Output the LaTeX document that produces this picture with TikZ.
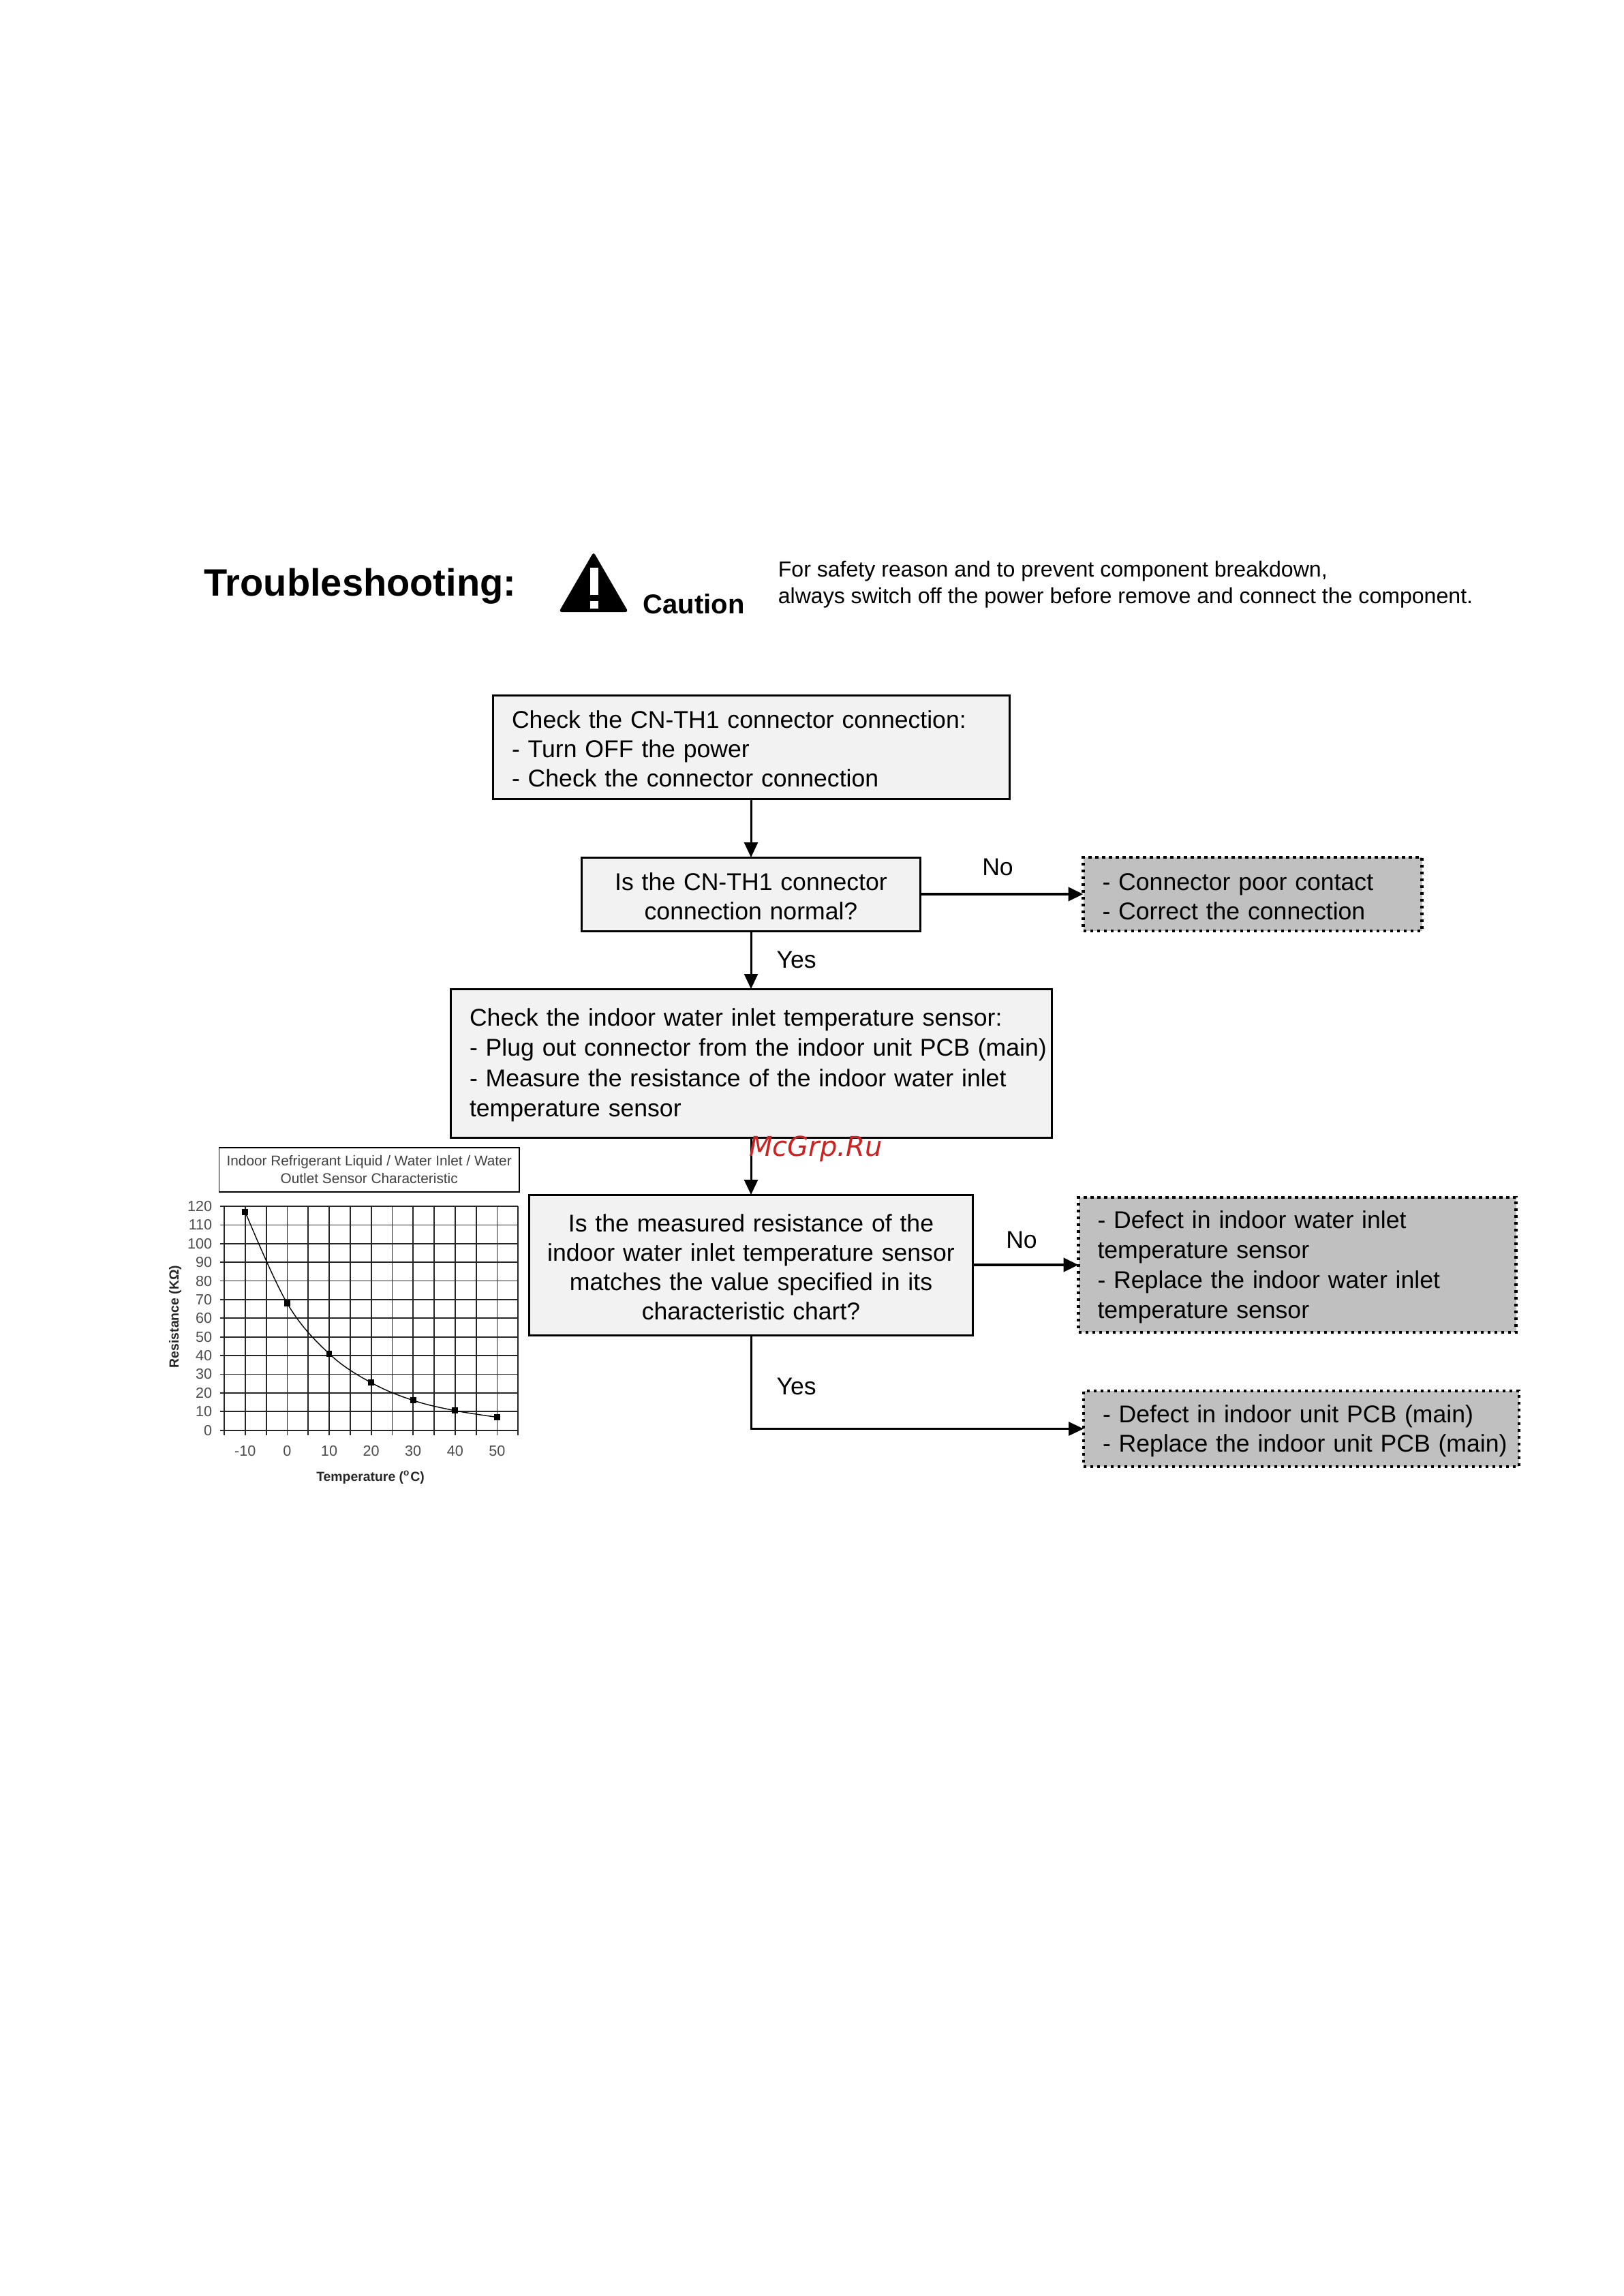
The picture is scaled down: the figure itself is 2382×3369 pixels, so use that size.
\documentclass[tikz,border=0pt]{standalone}
\usepackage{fontspec}
\setmainfont{Liberation Sans}
\newfontfamily\markfont{DejaVu Sans}
\usetikzlibrary{arrows.meta, positioning}

\definecolor{boxfill}{HTML}{F2F2F2}
\definecolor{faultfill}{HTML}{C0C0C0}
\definecolor{markred}{HTML}{CC2222}

\begin{document}
\begin{tikzpicture}[
    x=0.25pt, y=-0.25pt,
    every node/.style={font=\fontsize{8.9}{10.75}\selectfont},
    stepbox/.style={rectangle, draw, line width=0.75pt, fill=boxfill, align=left, inner xsep=7pt, inner ysep=0pt, outer sep=0pt, execute at begin node={\rule{0pt}{7.9pt}}},
    askbox/.style={stepbox, align=center, inner xsep=3pt},
    faultbox/.style={stepbox, fill=faultfill, dash pattern=on 1.1pt off 1.4pt, line width=1.1pt},
    arrow/.style={-{Triangle[length=5.5pt, width=5pt]}, line width=0.75pt},
    sidearrow/.style={arrow, line width=1.1pt},
    answer/.style={inner sep=0pt},
    gridline/.style={line width=0.45pt, black!85},
    ticktext/.style={font=\fontsize{5.4}{6}\selectfont, text=black!70, inner sep=0pt},
    axistext/.style={font=\fontsize{4.85}{6}\selectfont\bfseries, text=black!85, inner sep=0pt},
    datamark/.style={rectangle, fill=black, inner sep=0pt, minimum size=2.2pt}
]
\useasboundingbox (0,0) rectangle (2382,3369);

% Header
\node[font=\fontsize{14}{16}\selectfont\bfseries, anchor=west, inner sep=0pt] (title) at (299,860) {Troubleshooting:};
\fill[rounded corners=1pt] (871,810) -- (922,898) -- (820,898) -- cycle;
\fill[white] (866,833) rectangle (878,873);
\fill[white] (866,882) rectangle (878,893);
\node[font=\fontsize{10}{12}\selectfont\bfseries, anchor=west, inner sep=0pt] (caution) at (943,886) {Caution};
\node[font=\fontsize{8.02}{9.8}\selectfont, anchor=west, align=left, inner sep=0pt] (warning) at (1141,858) {For safety reason and to prevent component breakdown,\\always switch off the power before remove and connect the component.};

% Nodes
\node[stepbox, text width=175.5pt, minimum height=38pt] (connector) at (1102,1096) {Check the CN-TH1 connector connection:\\- Turn OFF the power\\- Check the connector connection};
\node[askbox, text width=118.25pt, minimum height=27pt, below=21.5pt of connector] (normal) {Is the CN-TH1 connector\\connection normal?};
\node[faultbox, text width=110.25pt, minimum height=27pt, right=59.75pt of normal] (contact) {- Connector poor contact\\- Correct the connection};
\node[stepbox, font=\fontsize{8.9}{11.1}\selectfont, text width=206.5pt, minimum height=54.5pt, below=21.25pt of normal] (sensor) {Check the indoor water inlet temperature sensor:\\\mbox{- Plug out connector from the indoor unit PCB (main)}\\- Measure the resistance of the indoor water inlet\\temperature sensor};
\node[askbox, text width=156.75pt, minimum height=51.5pt, below=21pt of sensor] (measured) {Is the measured resistance of the\\indoor water inlet temperature sensor\\matches the value specified in its\\characteristic chart?};
\node[faultbox, font=\fontsize{8.9}{11}\selectfont, text width=146.5pt, minimum height=49.5pt, right=38.75pt of measured] (defect) {- Defect in indoor water inlet\\temperature sensor\\- Replace the indoor water inlet\\temperature sensor};
\node[faultbox, text width=145.75pt, minimum height=27.75pt] (pcb) at (1909.5,2096.5) {- Defect in indoor unit PCB (main)\\\mbox{- Replace the indoor unit PCB (main)}};

% Arrows
\draw[arrow] (connector) -- (normal);
\draw[sidearrow] (normal) -- (contact) node[answer, midway, above=6.25pt, xshift=-1.5pt] (nofirst) {No};
\draw[arrow] (normal) -- (sensor) node[answer, midway, right=9pt] (yesfirst) {Yes};
\draw[arrow] (sensor) -- (measured);
\draw[sidearrow] (measured) -- (defect) node[answer, midway, above=5.5pt, xshift=-1.5pt] (nosecond) {No};
\draw[arrow] (measured) |- (pcb) node[answer, pos=0.275, right=9pt] (yessecond) {Yes};

% Chart
\node[draw, line width=0.4pt, align=center, font=\fontsize{5.2}{6.5}\selectfont, text=black!75, minimum width=110.2pt, minimum height=16.2pt, inner sep=0pt] (charttitle) at (541.7,1716.5) {Indoor Refrigerant Liquid / Water Inlet / Water\\Outlet Sensor Characteristic};
\begin{scope}[shift={(329,2098.6)}, x=1.54pt, y=0.6845pt]
\foreach \t in {0,5,...,70}
    \draw[gridline] (\t,0) ++(0,-2.6) -- (\t,120);
\foreach \r in {0,10,...,120}
    \draw[gridline] (0,\r) ++(-1,0) -- (70,\r);
\foreach \r in {0,10,...,120}
    \node[ticktext, anchor=east, xshift=-4.25pt] (rtick\r) at (0,\r) {\r};
\foreach \t in {-10,0,...,50}
    \node[ticktext, yshift=-7.5pt] (ttick\t) at ({\t+15},0) {\t};
\draw[line width=0.35pt] plot[smooth, tension=0.6] coordinates {(5,117) (15,68) (25,41) (35,25.5) (45,16) (55,10.5) (65,7)};
\foreach \t/\r in {5/117, 15/68, 25/41, 35/25.5, 45/16, 55/10.5, 65/7}
    \node[datamark] (point\t) at (\t,\r) {};
\end{scope}
\node[axistext] (tempaxis) at (543.6,2167.6) {Temperature (\textsuperscript{o}C)};
\node[axistext, rotate=90] (resaxis) at (257,1932) {Resistance (KΩ)};

% Site mark
\node[font=\fontsize{10}{12}\selectfont\markfont\itshape, text=markred, inner sep=0pt] (sitemark) at (1197,1686) {McGrp.Ru};

\end{tikzpicture}
\end{document}
